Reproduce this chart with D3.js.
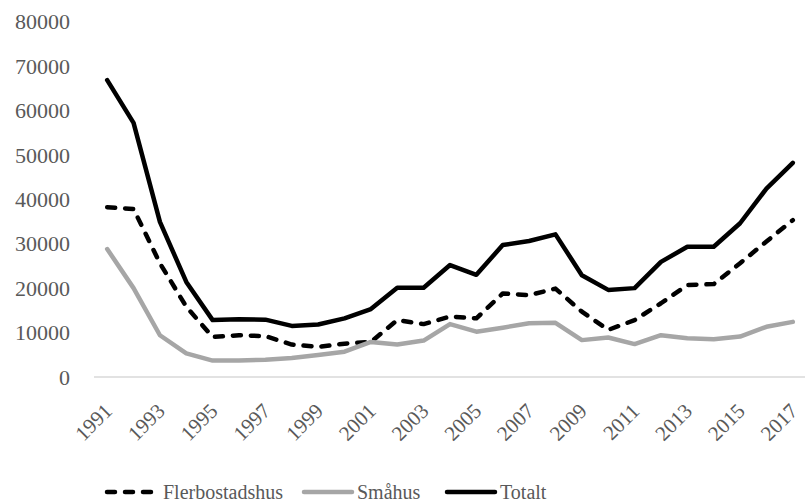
<!DOCTYPE html>
<html>
<head>
<meta charset="utf-8">
<script src="https://cdn.jsdelivr.net/npm/d3@7"></script>
<style>
    body { margin: 0; background: #fff; }
    text { font-family: "Liberation Serif", "Times New Roman", serif; fill: #595959; }
</style>
</head>
<body>
<div id="chart"></div>
<script>
// Data
var years = d3.range(1991, 2018);
var flerbostadshus = [38200, 37800, 25600, 15800, 9000, 9400, 9200, 7300, 6800, 7500, 7900, 12800, 11900, 13600, 13200, 18800, 18400, 19900,
                      14700, 10600, 12800, 16600, 20700, 20900, 25600, 30500, 35300];
var smahus = [28800, 20000, 9400, 5300, 3700, 3700, 3900, 4300, 4950, 5700, 7900, 7300, 8200, 11900, 10200, 11100, 12100, 12200,
              8300, 8900, 7400, 9400, 8700, 8500, 9100, 11300, 12400];
var totalt = [66800, 57200, 34900, 21400, 12800, 13000, 12900, 11500, 11800, 13200, 15300, 20100, 20100, 25200, 23000, 29700, 30600, 32100,
              22900, 19600, 20000, 25900, 29300, 29300, 34600, 42400, 48200];
var yTicks = [0, 10000, 20000, 30000, 40000, 50000, 60000, 70000, 80000];

var series = [
    {name: "Flerbostadshus", values: flerbostadshus, color: "#000", dash: "8,10"},
    {name: "Småhus", values: smahus, color: "#a6a6a6", dash: null},
    {name: "Totalt", values: totalt, color: "#000", dash: null}
];

var width = 805, height = 502;
var svg = d3.select("#chart").append("svg")
    .attr("width", width)
    .attr("height", height);

// Scales
var x = d3.scaleBand()
    .domain(years)
    .range([94, 806]);

var y = d3.scaleLinear()
    .domain([0, 80000])
    .range([377, 21.5]);

// Y tick labels (no gridlines)
svg.append("g")
    .selectAll("text")
    .data(yTicks)
    .enter()
    .append("text")
    .attr("x", 70)
    .attr("y", function(d) { return y(d); })
    .attr("dy", "0.35em")
    .attr("text-anchor", "end")
    .style("font-size", "22px")
    .text(function(d) { return d; });

// X axis line
svg.append("line")
    .attr("x1", 94)
    .attr("x2", 805)
    .attr("y1", y(0))
    .attr("y2", y(0))
    .style("stroke", "#d9d9d9")
    .style("stroke-width", 1.5);

// X labels, every other year
svg.append("g")
    .selectAll("text")
    .data(years.filter(function(d, i) { return i % 2 === 0; }))
    .enter()
    .append("text")
    .attr("transform", function(d) {
        return "translate(" + (x(d) + x.bandwidth() / 2 + 1) + ",407) rotate(-45)";
    })
    .attr("dy", "0.35em")
    .attr("text-anchor", "end")
    .style("font-size", "21px")
    .text(function(d) { return d; });

// Lines
var line = d3.line()
    .x(function(d, i) { return x(years[i]) + x.bandwidth() / 2; })
    .y(function(d) { return y(d); });

svg.append("g")
    .selectAll("path")
    .data(series)
    .enter()
    .append("path")
    .attr("d", function(d) { return line(d.values); })
    .style("fill", "none")
    .style("stroke", function(d) { return d.color; })
    .style("stroke-width", 4.5)
    .style("stroke-linejoin", "round")
    .style("stroke-linecap", "round")
    .style("stroke-dasharray", function(d) { return d.dash; });

// Legend
var legendX = [107, 304, 447];
var legend = svg.append("g")
    .selectAll("g")
    .data(series)
    .enter()
    .append("g")
    .attr("transform", function(d, i) { return "translate(" + legendX[i] + ",492)"; });

legend.append("line")
    .attr("x1", 0)
    .attr("x2", 48)
    .style("stroke", function(d) { return d.color; })
    .style("stroke-width", 4.5)
    .style("stroke-linecap", "round")
    .style("stroke-dasharray", function(d) { return d.dash; });

legend.append("text")
    .attr("x", function(d, i) { return i === 0 ? 56 : 53; })
    .attr("y", 0)
    .attr("dy", "0.35em")
    .style("font-size", "20px")
    .text(function(d) { return d.name; });
</script>
</body>
</html>
